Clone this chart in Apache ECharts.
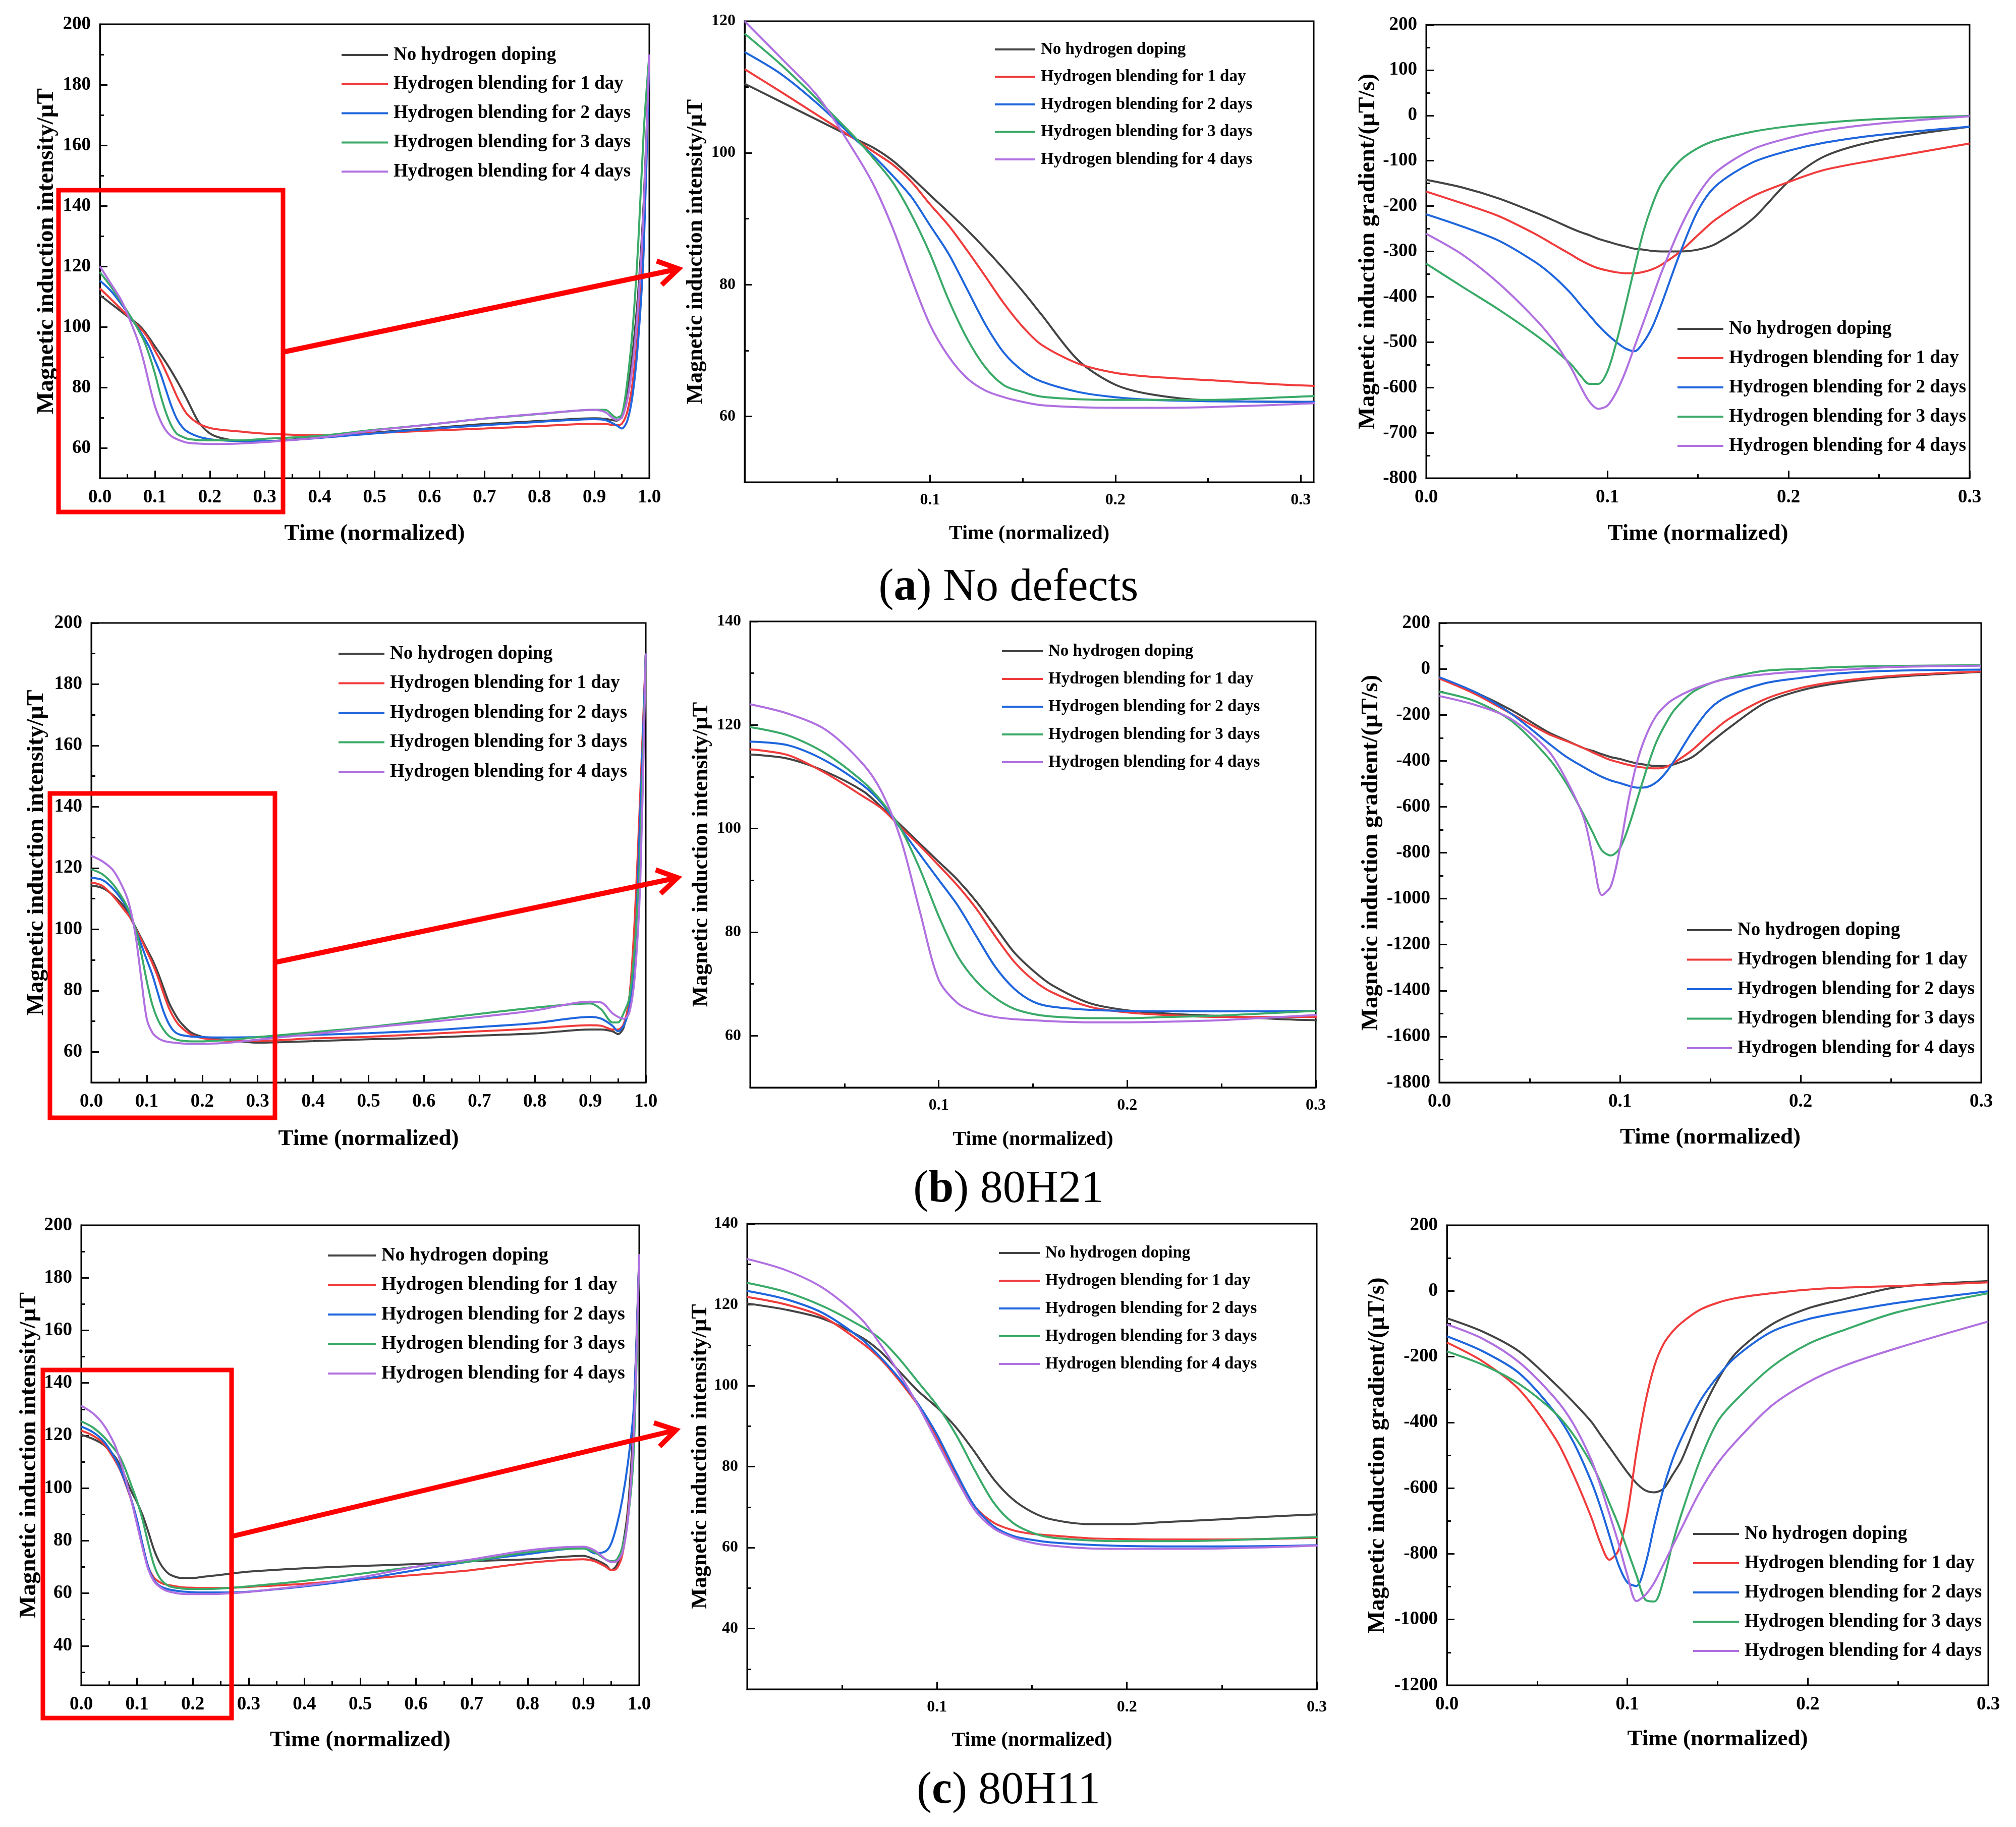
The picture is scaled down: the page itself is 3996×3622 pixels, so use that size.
<!DOCTYPE html>
<html lang="en">
<head>
<meta charset="UTF-8">
<title>Magnetic induction intensity and gradient</title>
<script src="https://cdn.jsdelivr.net/npm/echarts@6.0.0/dist/echarts.min.js"></script>
<style>
    html, body {margin: 0; padding: 0; background: #fff;}
    #chart {width: 3996px; height: 3622px;}
</style>
</head>
<body>
<div id="chart"></div>
<script>
    var names = ['No hydrogen doping', 'Hydrogen blending for 1 day', 'Hydrogen blending for 2 days',
        'Hydrogen blending for 3 days', 'Hydrogen blending for 4 days'];
    var colors = ['#444444', '#f03c3c', '#1f66dd', '#3aaa68', '#b070e0'];

    // sample times of the intensity curves (normalized)
    var timeFull = [0, 0.02, 0.04, 0.06, 0.07, 0.08, 0.09, 0.1, 0.11, 0.12, 0.13, 0.14, 0.15, 0.16, 0.18, 0.2,
        0.22, 0.25, 0.3, 0.4, 0.5, 0.6, 0.7, 0.8, 0.9, 0.92, 0.94, 0.95, 0.96, 0.97, 0.98, 0.99, 1.0];
    // sample times of the gradient curves
    var timeGrad = [0, 0.02, 0.04, 0.06, 0.07, 0.08, 0.085, 0.09, 0.095, 0.1, 0.105, 0.11, 0.115, 0.12, 0.125,
        0.13, 0.14, 0.15, 0.16, 0.18, 0.2, 0.22, 0.25, 0.3];

    // (a) No defects : intensity, order = names
    var intA = [
        [110.5, 107.7, 104.9, 102.1, 100.7, 98.8, 96.3, 93.6, 91.0, 88.3, 85.4, 82.3, 79.0, 75.5, 68.5, 64.8, 63.3, 62.4, 62.2, 63.6, 65.1, 66.5, 67.9, 68.9, 69.8, 69.6, 69.0, 70.5, 78, 92, 112, 142, 190],
        [112.7, 109.2, 105.6, 102.0, 100.1, 98.2, 95.6, 92.2, 89.0, 85.2, 81.2, 77.1, 73.6, 70.9, 68.0, 66.6, 66.0, 65.5, 64.7, 64.2, 64.9, 65.7, 66.4, 67.2, 68.0, 67.9, 67.5, 68.0, 72, 82, 100, 132, 190],
        [115.3, 111.9, 107.3, 102.0, 99.4, 96.5, 93.3, 89.0, 84.7, 79.3, 73.9, 69.6, 66.9, 65.3, 63.7, 62.9, 62.5, 62.3, 62.2, 63.3, 64.8, 66.3, 67.5, 68.6, 69.5, 69.2, 67.5, 66.4, 69, 78, 96, 126, 190],
        [118.1, 113.3, 107.9, 102.2, 99.0, 95.5, 90.6, 84.7, 77.7, 71.8, 67.4, 64.7, 63.7, 63.0, 62.6, 62.5, 62.5, 62.5, 63.0, 64.0, 66.0, 67.7, 69.7, 71.2, 72.6, 72.6, 70.0, 71.0, 82, 100, 128, 165, 190],
        [120.0, 114.3, 108.4, 99.8, 94.9, 88.5, 80.9, 73.9, 69.1, 65.8, 63.9, 62.9, 62.2, 61.7, 61.4, 61.3, 61.3, 61.4, 61.9, 63.4, 65.8, 67.7, 69.7, 71.3, 72.6, 71.8, 69.3, 70.0, 76, 88, 108, 140, 190]
    ];
    // (a) gradient
    var gradA = [
        [-142, -159, -183, -214, -231, -249, -257, -264, -272, -278, -284, -289, -294, -296, -299, -300, -300, -296, -283, -229, -146, -90, -55, -25],
        [-168, -194, -222, -261, -284, -307, -319, -329, -337, -342, -346, -348, -348, -345, -339, -329, -301, -264, -229, -179, -147, -120, -97, -62],
        [-218, -245, -276, -323, -354, -393, -417, -440, -463, -483, -500, -514, -520, -500, -465, -415, -305, -210, -155, -104, -78, -60, -43, -25],
        [-327, -378, -428, -483, -514, -549, -573, -592, -592, -565, -500, -420, -335, -255, -195, -150, -100, -72, -55, -36, -24, -16, -8, -1],
        [-261, -307, -370, -448, -495, -557, -596, -631, -647, -640, -610, -565, -510, -455, -400, -345, -250, -175, -125, -75, -50, -33, -18, -2]
    ];

    // (b) 80H21 : intensity
    var intB = [
        [114.3, 113.5, 111.0, 107.2, 104.0, 100.6, 97.1, 93.6, 90.1, 85.9, 81.0, 76.1, 72.6, 69.8, 66.3, 64.9, 64.3, 63.8, 63.0, 63.5, 64.1, 64.6, 65.3, 66.0, 67.3, 67.3, 66.7, 65.8, 67.9, 77, 97, 138, 190],
        [115.3, 114.2, 110.7, 106.2, 103.8, 100.2, 96.7, 92.9, 89.0, 84.5, 79.2, 74.3, 70.8, 68.4, 65.6, 64.5, 64.0, 63.6, 63.6, 64.4, 64.9, 65.8, 66.7, 67.6, 68.7, 68.5, 67.3, 67.3, 69.0, 77, 103, 144, 190],
        [116.8, 116.1, 113.1, 108.3, 104.8, 99.9, 95.0, 90.1, 85.2, 79.2, 73.3, 69.1, 66.6, 65.6, 65.0, 64.8, 64.7, 64.7, 64.8, 65.5, 66.1, 66.9, 68.1, 69.4, 71.4, 70.8, 68.5, 66.7, 68.5, 74, 91, 138, 190],
        [119.6, 118.0, 114.5, 109.0, 105.1, 99.9, 92.2, 83.1, 75.4, 70.5, 67.3, 65.2, 64.2, 63.7, 63.4, 63.4, 63.6, 63.9, 64.8, 66.4, 68.1, 70.2, 72.4, 74.4, 75.8, 73.8, 69.6, 69.6, 72.6, 77.3, 94, 126, 190],
        [124.0, 122.2, 119.1, 112.4, 106.9, 97.8, 84.0, 70.8, 66.3, 64.5, 63.6, 63.2, 63.0, 62.8, 62.6, 62.6, 62.7, 63.0, 64.0, 65.8, 67.9, 69.6, 71.4, 73.5, 76.4, 76.1, 72.6, 71.4, 70.8, 72.6, 84.4, 115, 190]
    ];
    // (b) gradient
    var gradB = [
        [-39, -102, -180, -274, -310, -345, -357, -371, -384, -392, -403, -412, -418, -423, -423, -415, -384, -321, -259, -149, -94, -63, -36, -13],
        [-42, -110, -196, -282, -313, -345, -364, -381, -397, -408, -418, -426, -431, -433, -428, -408, -353, -282, -219, -133, -83, -55, -31, -11],
        [-36, -102, -196, -321, -381, -428, -450, -470, -486, -497, -509, -517, -514, -494, -455, -400, -274, -172, -118, -63, -39, -20, -8, -3],
        [-99, -141, -227, -384, -494, -635, -713, -790, -812, -780, -682, -556, -431, -321, -243, -180, -102, -63, -39, -8, 0, 8, 13, 16],
        [-118, -157, -219, -353, -478, -650, -820, -985, -945, -780, -560, -390, -280, -205, -160, -130, -90, -62, -42, -24, -11, -5, 8, 14]
    ];

    // (c) 80H11 : intensity
    var intC = [
        [120.3, 118.8, 116.5, 112.0, 108.5, 103.6, 98.7, 94.6, 89.7, 83.5, 76.8, 71.9, 68.8, 67.0, 65.8, 65.8, 66.3, 67.0, 68.2, 69.5, 70.4, 71.1, 72.2, 72.9, 74.2, 72.9, 70.8, 68.8, 70.8, 77.7, 92.7, 127, 189],
        [121.9, 120.1, 117.0, 110.7, 106.7, 101.3, 95.1, 87.1, 78.1, 70.1, 66.1, 64.3, 63.4, 63.0, 62.3, 62.1, 62.0, 62.0, 62.4, 63.6, 65.3, 67.0, 68.8, 71.5, 72.9, 72.2, 70.1, 68.8, 69.5, 74.9, 90, 120, 189],
        [123.4, 121.4, 117.9, 111.6, 107.1, 101.8, 95.5, 87.9, 78.6, 70.1, 65.2, 62.9, 61.9, 61.3, 60.7, 60.4, 60.3, 60.3, 60.6, 62.6, 65.3, 68.8, 72.2, 74.9, 77.3, 75.2, 76.0, 79.0, 86, 96, 110, 130, 189],
        [125.4, 123.2, 119.6, 114.7, 111.6, 106.7, 100.9, 95.1, 87.9, 79.0, 71.0, 66.1, 63.7, 62.5, 61.8, 61.6, 61.6, 61.8, 62.6, 64.7, 67.4, 70.1, 72.2, 75.6, 77.0, 75.6, 72.9, 72.2, 72.9, 77.7, 88.6, 113, 189],
        [131.3, 128.6, 124.1, 116.5, 110.3, 103.1, 95.1, 86.2, 77.2, 69.2, 64.7, 62.5, 61.2, 60.5, 59.8, 59.7, 59.7, 59.8, 60.5, 62.9, 66.0, 70.1, 72.9, 76.3, 77.7, 76.3, 72.9, 71.9, 72.2, 75.6, 88.6, 120, 189]
    ];
    // (c) gradient
    var gradC = [
        [-83, -124, -184, -283, -338, -398, -437, -475, -514, -552, -585, -607, -613, -602, -560, -515, -382, -272, -190, -102, -53, -25, 12, 30],
        [-157, -215, -300, -448, -558, -689, -766, -818, -790, -678, -492, -338, -228, -162, -124, -97, -58, -36, -22, -7, 4, 10, 15, 26],
        [-138, -184, -250, -371, -459, -580, -656, -744, -832, -887, -898, -832, -711, -602, -514, -448, -338, -261, -201, -124, -86, -64, -36, -1],
        [-184, -225, -283, -371, -437, -525, -580, -645, -711, -788, -865, -940, -945, -880, -770, -678, -519, -398, -333, -231, -162, -119, -64, -7],
        [-102, -146, -217, -327, -404, -514, -591, -678, -766, -865, -944, -925, -887, -832, -777, -722, -613, -525, -459, -349, -278, -228, -173, -93]
    ];

    // tick values
    function steps(a, b, s) {
        var out = [];
        for (var v = a; v <= b + s / 1000; v += s) out.push(Math.round(v * 1000) / 1000);
        return out;
    }
    var xFull = steps(0, 1, 0.1), xFullMinor = steps(0.05, 0.95, 0.1);
    var xZoom = [0.1, 0.2, 0.3], xGrad = [0, 0.1, 0.2, 0.3], xShortMinor = [0.05, 0.15, 0.25];
    var yFull = steps(60, 200, 20), yFullMinor = steps(70, 190, 20);
    var yFullC = steps(40, 200, 20), yFullCMinor = steps(30, 190, 20);
    var yZoomA = [60, 80, 100, 120], yZoomAMinor = [70, 90, 110];
    var yZoomB = [60, 80, 100, 120, 140], yZoomBMinor = [70, 90, 110, 130];
    var yZoomC = [40, 60, 80, 100, 120, 140], yZoomCMinor = [30, 50, 70, 90, 110, 130];
    var yGradA = steps(-800, 200, 100), yGradAMinor = steps(-750, 150, 100);
    var yGradB = steps(-1800, 200, 200), yGradBMinor = steps(-1700, 100, 200);
    var yGradC = steps(-1200, 200, 200), yGradCMinor = steps(-1100, 100, 200);

    var FONT = 'Liberation Serif';
    var NAME_INT = 'Magnetic induction intensity/μT';
    var NAME_GRAD = 'Magnetic induction gradient/(μT/s)';
    var BIG = [37, 45, 47], SMALL = [32, 40, 44]; // tick, x name, y name font sizes

    // rect = [left, top, width, height]; leg = [left, first row centre, row step, font, line length]
    var panels = [
        {rect: [198, 48, 1089, 900], t: timeFull, v: intA, x: [0, 1], y: [50, 200], xt: xFull, xm: xFullMinor, yt: yFull, ym: yFullMinor, name: NAME_INT, yGap: 82, xGap: 88, f: BIG, leg: [677, 109, 57.8, 37, 92]},
        {rect: [1476, 42, 1128, 914], t: timeFull, v: intA, x: [0, 0.307], y: [50, 120], xt: xZoom, xm: xShortMinor, yt: yZoomA, ym: yZoomAMinor, name: NAME_INT, yGap: 74, xGap: 83, f: SMALL, leg: [1972, 98, 54.5, 33, 80]},
        {rect: [2827, 49, 1077, 899], t: timeGrad, v: gradA, x: [0, 0.3], y: [-800, 200], xt: xGrad, xm: xShortMinor, yt: yGradA, ym: yGradAMinor, name: NAME_GRAD, yGap: 92, xGap: 88, f: BIG, leg: [3325, 652, 58, 37, 91]},
        {rect: [181, 1235, 1099, 911], t: timeFull, v: intB, x: [0, 1], y: [50, 200], xt: xFull, xm: xFullMinor, yt: yFull, ym: yFullMinor, name: NAME_INT, yGap: 85, xGap: 90, f: BIG, leg: [671, 1296, 58.5, 37, 91]},
        {rect: [1487, 1232, 1121, 924], t: timeFull, v: intB, x: [0, 0.3], y: [50, 140], xt: xZoom, xm: xShortMinor, yt: yZoomB, ym: yZoomBMinor, name: NAME_INT, yGap: 74, xGap: 84, f: SMALL, leg: [1986, 1291, 55, 33, 81]},
        {rect: [2853, 1235, 1074, 911], t: timeGrad, v: gradB, x: [0, 0.3], y: [-1800, 200], xt: xGrad, xm: xShortMinor, yt: yGradB, ym: yGradBMinor, name: NAME_GRAD, yGap: 112, xGap: 87, f: BIG, leg: [3344, 1844, 58.5, 37, 89]},
        {rect: [161, 2429, 1106, 912], t: timeFull, v: intC, x: [0, 1], y: [25, 200], xt: xFull, xm: xFullMinor, yt: yFullC, ym: yFullCMinor, name: NAME_INT, yGap: 80, xGap: 87, f: BIG, leg: [650, 2489, 58.5, 38, 95]},
        {rect: [1481, 2426, 1129, 923], t: timeFull, v: intC, x: [0, 0.3], y: [25, 140], xt: xZoom, xm: xShortMinor, yt: yZoomC, ym: yZoomCMinor, name: NAME_INT, yGap: 69, xGap: 82, f: SMALL, leg: [1980, 2484, 55, 33, 81]},
        {rect: [2868, 2429, 1073, 912], t: timeGrad, v: gradC, x: [0, 0.3], y: [-1200, 200], xt: xGrad, xm: xShortMinor, yt: yGradC, ym: yGradCMinor, name: NAME_GRAD, yGap: 114, xGap: 85, f: BIG, leg: [3356, 3041, 58, 37, 91]}
    ];

    var redBoxes = [[116, 377, 445, 638], [99, 1573, 446, 643], [85, 2716, 374, 690]];
    var arrows = [[561, 698, 1345, 533], [545, 1908, 1343, 1740], [459, 3046, 1340, 2835]];
    var captions = [['a', 'No defects', 1166], ['b', '80H21', 2359], ['c', '80H11', 3551]];

    var grids = [], xAxes = [], yAxes = [], series = [], legends = [], graphics = [];

    panels.forEach(function (p, i) {
        grids.push({
            left: p.rect[0], top: p.rect[1], width: p.rect[2], height: p.rect[3],
            show: true, borderColor: '#000', borderWidth: 3, backgroundColor: 'transparent'
        });
        var tickStyle = {color: '#000', width: 3};
        xAxes.push({
            type: 'value', gridIndex: i, position: 'bottom', min: p.x[0], max: p.x[1],
            axisLine: {show: true, onZero: false, lineStyle: tickStyle},
            axisTick: {inside: true, length: 15, lineStyle: tickStyle, customValues: p.xt},
            axisLabel: {
                customValues: p.xt, margin: 20, color: '#000', fontFamily: FONT, fontWeight: 'bold',
                fontSize: p.f[0], formatter: function (v) { return v.toFixed(1); }
            },
            splitLine: {show: false},
            name: 'Time (normalized)', nameLocation: 'middle', nameGap: p.xGap,
            nameTextStyle: {color: '#000', fontFamily: FONT, fontWeight: 'bold', fontSize: p.f[1]}
        });
        // second axis only carries the short minor ticks
        xAxes.push({
            type: 'value', gridIndex: i, position: 'bottom', min: p.x[0], max: p.x[1],
            axisLine: {show: false, onZero: false},
            axisTick: {inside: true, length: 8, lineStyle: tickStyle, customValues: p.xm},
            axisLabel: {show: false}, splitLine: {show: false}
        });
        yAxes.push({
            type: 'value', gridIndex: i, position: 'left', min: p.y[0], max: p.y[1],
            axisLine: {show: true, onZero: false, lineStyle: tickStyle},
            axisTick: {inside: true, length: 15, lineStyle: tickStyle, customValues: p.yt},
            axisLabel: {
                customValues: p.yt, margin: 18, color: '#000', fontFamily: FONT, fontWeight: 'bold',
                fontSize: p.f[0], formatter: function (v) { return String(v); }
            },
            splitLine: {show: false},
            name: p.name, nameLocation: 'middle', nameGap: p.yGap, nameRotate: 90,
            nameTextStyle: {color: '#000', fontFamily: FONT, fontWeight: 'bold', fontSize: p.f[2]}
        });
        yAxes.push({
            type: 'value', gridIndex: i, position: 'left', min: p.y[0], max: p.y[1],
            axisLine: {show: false, onZero: false},
            axisTick: {inside: true, length: 8, lineStyle: tickStyle, customValues: p.ym},
            axisLabel: {show: false}, splitLine: {show: false}
        });

        p.v.forEach(function (vals, k) {
            series.push({
                type: 'line', name: names[k], xAxisIndex: 2 * i, yAxisIndex: 2 * i,
                data: p.t.map(function (t, j) { return [t, vals[j]]; }),
                showSymbol: false, symbol: 'none', smooth: 0.3,
                lineStyle: {width: 4, color: colors[k]}, itemStyle: {color: colors[k]}
            });
        });

        var lh = p.leg[3] + 4;
        legends.push({
            data: names, orient: 'vertical', left: p.leg[0], top: p.leg[1] - lh / 2,
            padding: 0, itemGap: p.leg[2] - lh, itemWidth: p.leg[4], itemHeight: 4,
            icon: 'rect', selectedMode: false,
            textStyle: {
                color: '#000', fontFamily: FONT, fontWeight: 'bold', fontSize: p.leg[3],
                lineHeight: lh, padding: [0, 0, 0, 6]
            }
        });
    });

    redBoxes.forEach(function (b) {
        graphics.push({
            type: 'rect', z: 100, shape: {x: b[0], y: b[1], width: b[2], height: b[3]},
            style: {stroke: '#ff0000', lineWidth: 9, fill: null}
        });
    });
    arrows.forEach(function (a) {
        var ang = Math.atan2(a[1] - a[3], a[0] - a[2]), len = 46, spread = 0.55;
        graphics.push({
            type: 'line', z: 100, shape: {x1: a[0], y1: a[1], x2: a[2], y2: a[3]},
            style: {stroke: '#ff0000', lineWidth: 10}
        });
        graphics.push({
            type: 'polyline', z: 100,
            shape: {points: [
                [a[2] + len * Math.cos(ang + spread), a[3] + len * Math.sin(ang + spread)],
                [a[2], a[3]],
                [a[2] + len * Math.cos(ang - spread), a[3] + len * Math.sin(ang - spread)]
            ]},
            style: {stroke: '#ff0000', lineWidth: 10, fill: null, lineJoin: 'miter'}
        });
    });
    captions.forEach(function (c) {
        graphics.push({
            type: 'text', x: 1999, y: c[2], z: 100,
            style: {
                text: '{n|(}{b|' + c[0] + '}{n|) ' + c[1] + '}',
                align: 'center', verticalAlign: 'middle',
                rich: {
                    n: {fontFamily: FONT, fontSize: 90, fill: '#000'},
                    b: {fontFamily: FONT, fontSize: 90, fontWeight: 'bold', fill: '#000'}
                }
            }
        });
    });

    var myChart = echarts.init(document.getElementById('chart'), null, {renderer: 'canvas'});
    myChart.setOption({
        backgroundColor: '#fff',
        animation: false,
        grid: grids,
        xAxis: xAxes,
        yAxis: yAxes,
        legend: legends,
        series: series,
        graphic: graphics
    });
</script>
</body>
</html>
